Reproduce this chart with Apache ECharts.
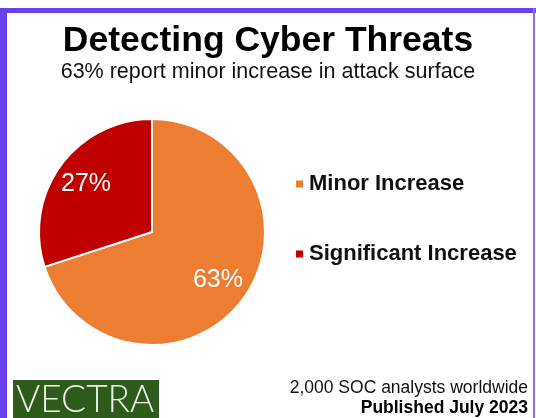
<!DOCTYPE html>
<html>
<head>
<meta charset="utf-8">
<script src="https://cdn.jsdelivr.net/npm/echarts@6/dist/echarts.min.js"></script>
<style>
  html, body { margin: 0; padding: 0; background: #fff; }
  #chart { width: 536px; height: 418px; }
</style>
</head>
<body>
<div id="chart"></div>
<script>
// data
let categories = ['Minor Increase', 'Significant Increase'];
let shares = [63, 27];
let colors = ['#ED7D31', '#C00000'];

window.onload = ()=>{
    let chart = echarts.init(document.getElementById('chart'));
    let font = "'Liberation Sans', Arial, sans-serif";

    let pieData = categories.map((name, i) => ({
        name: name,
        value: shares[i],
        itemStyle: { color: colors[i] }
    }));
    //透明的一层只用来放标签，位置更靠外
    let labelData = categories.map((name, i) => ({
        name: name,
        value: shares[i],
        itemStyle: { color: 'rgba(0,0,0,0)', borderWidth: 0 }
    }));

    let option = {
        backgroundColor: '#fff',
        animation: false,
        title: [{
            text: 'Detecting Cyber Threats',
            left: 'center',
            top: 18,
            textStyle: { fontFamily: font, fontSize: 35.5, fontWeight: 'bold', color: '#000' }
        }, {
            text: '63% report minor increase in attack surface',
            left: 'center',
            top: 56,
            textStyle: { fontFamily: font, fontSize: 21.5, fontWeight: 'normal', color: '#111' }
        }],
        legend: {
            orient: 'vertical',
            left: 289,
            top: 168,
            itemWidth: 9,
            itemHeight: 9,
            itemGap: 48,
            icon: 'rect',
            data: categories.map((name, i) => ({ name: name, itemStyle: { color: colors[i] } })),
            textStyle: { fontFamily: font, fontSize: 22, fontWeight: 'bold', color: '#111', lineHeight: 22 }
        },
        series: [{
            type: 'pie',
            center: [152, 232],
            radius: [0, 113],
            startAngle: 90,
            clockwise: true,
            silent: true,
            label: { show: false },
            labelLine: { show: false },
            itemStyle: { borderColor: '#fff', borderWidth: 2 },
            data: pieData
        }, {
            type: 'pie',
            center: [152, 232],
            radius: [44, 113],
            startAngle: 90,
            clockwise: true,
            silent: true,
            label: {
                show: true,
                position: 'inside',
                formatter: p => p.value + '%',
                color: '#fff',
                fontFamily: font,
                fontSize: 25
            },
            labelLine: { show: false },
            data: labelData
        }],
        graphic: [
            // 紫色边框
            { type: 'rect', shape: { x: 0, y: 8, width: 536, height: 5 }, style: { fill: '#6A3FF0' } },
            { type: 'rect', shape: { x: 0, y: 8, width: 7, height: 410, r: [3, 0, 0, 0] }, style: { fill: '#6A3FF0' } },
            { type: 'rect', shape: { x: 533, y: 8, width: 2, height: 410 }, style: { fill: '#8C6BF5' } },
            // logo
            { type: 'rect', shape: { x: 13, y: 380, width: 146, height: 40 }, style: { fill: '#2E5A1C' } },
            { type: 'text', x: 16, y: 400, style: { text: 'VECTRA', fill: '#E8F2DE', font: "300 37px 'Lato', Arial, sans-serif", textVerticalAlign: 'middle' } },
            // 脚注
            { type: 'text', x: 528, y: 388, style: { text: '2,000 SOC analysts worldwide', fill: '#111', font: "17.5px 'Liberation Sans', Arial, sans-serif", textAlign: 'right', textVerticalAlign: 'middle' } },
            { type: 'text', x: 528, y: 408, style: { text: 'Published July 2023', fill: '#000', font: "bold 17.5px 'Liberation Sans', Arial, sans-serif", textAlign: 'right', textVerticalAlign: 'middle' } }
        ]
    };
    chart.setOption(option);
}
</script>
</body>
</html>
